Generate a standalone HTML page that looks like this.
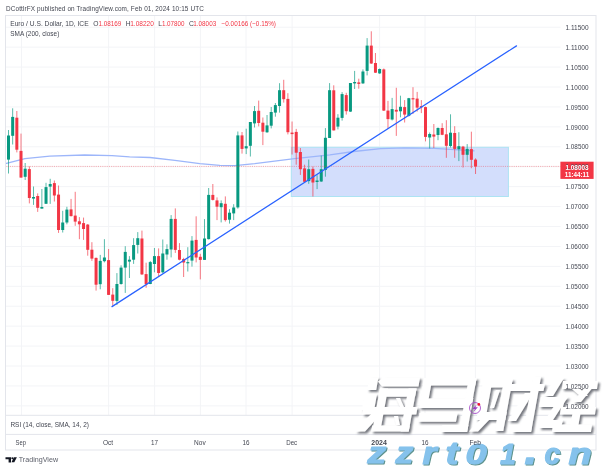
<!DOCTYPE html>
<html><head><meta charset="utf-8"><style>
html,body{margin:0;padding:0;background:#fff;}
body{width:602px;height:470px;position:relative;overflow:hidden;}
</style></head><body>
<svg width="602" height="470" viewBox="0 0 602 470" style="position:absolute;left:0;top:0;will-change:transform">
<line x1="5.5" y1="27.21" x2="560.5" y2="27.21" stroke="#f3f4f7" stroke-width="1"/>
<line x1="5.5" y1="47.14" x2="560.5" y2="47.14" stroke="#f3f4f7" stroke-width="1"/>
<line x1="5.5" y1="67.07" x2="560.5" y2="67.07" stroke="#f3f4f7" stroke-width="1"/>
<line x1="5.5" y1="87.00" x2="560.5" y2="87.00" stroke="#f3f4f7" stroke-width="1"/>
<line x1="5.5" y1="106.93" x2="560.5" y2="106.93" stroke="#f3f4f7" stroke-width="1"/>
<line x1="5.5" y1="126.86" x2="560.5" y2="126.86" stroke="#f3f4f7" stroke-width="1"/>
<line x1="5.5" y1="146.79" x2="560.5" y2="146.79" stroke="#f3f4f7" stroke-width="1"/>
<line x1="5.5" y1="166.72" x2="560.5" y2="166.72" stroke="#f3f4f7" stroke-width="1"/>
<line x1="5.5" y1="186.65" x2="560.5" y2="186.65" stroke="#f3f4f7" stroke-width="1"/>
<line x1="5.5" y1="206.58" x2="560.5" y2="206.58" stroke="#f3f4f7" stroke-width="1"/>
<line x1="5.5" y1="226.51" x2="560.5" y2="226.51" stroke="#f3f4f7" stroke-width="1"/>
<line x1="5.5" y1="246.44" x2="560.5" y2="246.44" stroke="#f3f4f7" stroke-width="1"/>
<line x1="5.5" y1="266.37" x2="560.5" y2="266.37" stroke="#f3f4f7" stroke-width="1"/>
<line x1="5.5" y1="286.30" x2="560.5" y2="286.30" stroke="#f3f4f7" stroke-width="1"/>
<line x1="5.5" y1="306.23" x2="560.5" y2="306.23" stroke="#f3f4f7" stroke-width="1"/>
<line x1="5.5" y1="326.16" x2="560.5" y2="326.16" stroke="#f3f4f7" stroke-width="1"/>
<line x1="5.5" y1="346.09" x2="560.5" y2="346.09" stroke="#f3f4f7" stroke-width="1"/>
<line x1="5.5" y1="366.02" x2="560.5" y2="366.02" stroke="#f3f4f7" stroke-width="1"/>
<line x1="5.5" y1="385.95" x2="560.5" y2="385.95" stroke="#f3f4f7" stroke-width="1"/>
<line x1="5.5" y1="405.88" x2="560.5" y2="405.88" stroke="#f3f4f7" stroke-width="1"/>
<line x1="21.5" y1="15.5" x2="21.5" y2="415" stroke="#f3f4f7" stroke-width="1"/>
<line x1="108.6" y1="15.5" x2="108.6" y2="415" stroke="#f3f4f7" stroke-width="1"/>
<line x1="154.6" y1="15.5" x2="154.6" y2="415" stroke="#f3f4f7" stroke-width="1"/>
<line x1="200.4" y1="15.5" x2="200.4" y2="415" stroke="#f3f4f7" stroke-width="1"/>
<line x1="246.0" y1="15.5" x2="246.0" y2="415" stroke="#f3f4f7" stroke-width="1"/>
<line x1="292.1" y1="15.5" x2="292.1" y2="415" stroke="#f3f4f7" stroke-width="1"/>
<line x1="379.6" y1="15.5" x2="379.6" y2="415" stroke="#f3f4f7" stroke-width="1"/>
<line x1="425.0" y1="15.5" x2="425.0" y2="415" stroke="#f3f4f7" stroke-width="1"/>
<line x1="475.4" y1="15.5" x2="475.4" y2="415" stroke="#f3f4f7" stroke-width="1"/>
<rect x="291.3" y="147.3" width="217.1" height="49.2" fill="#d3defc" stroke="#ade3f3" stroke-width="1"/>
<path d="M5.5,163.7 L24.9,158.7 L49.8,156.2 L84.7,155.0 L112.0,155.6 L129.6,156.8 L150.0,157.5 L174.9,160.4 L199.8,163.6 L219.8,165.3 L234.7,165.7 L254.7,163.7 L274.6,161.2 L294.5,158.7 L329.9,154.8 L353.8,151.5 L380.7,148.6 L404.7,147.9 L434.6,148.4 L474.5,150.8" fill="none" stroke="#9db6fa" stroke-width="1.3" stroke-linejoin="round"/>
<line x1="8.50" y1="130" x2="8.50" y2="173.5" stroke="#089981" stroke-width="0.9" stroke-opacity="0.75"/>
<rect x="7.00" y="135.5" width="3" height="24.10" fill="#089981"/>
<line x1="12.67" y1="108.3" x2="12.67" y2="144.5" stroke="#089981" stroke-width="0.9" stroke-opacity="0.75"/>
<rect x="11.17" y="116.9" width="3" height="18.90" fill="#089981"/>
<line x1="16.84" y1="111" x2="16.84" y2="152.4" stroke="#f23645" stroke-width="0.9" stroke-opacity="0.75"/>
<rect x="15.34" y="117.7" width="3" height="32.00" fill="#f23645"/>
<line x1="21.01" y1="133.6" x2="21.01" y2="177.6" stroke="#f23645" stroke-width="0.9" stroke-opacity="0.75"/>
<rect x="19.51" y="150.9" width="3" height="26.70" fill="#f23645"/>
<line x1="25.18" y1="163" x2="25.18" y2="180" stroke="#089981" stroke-width="0.9" stroke-opacity="0.75"/>
<rect x="23.68" y="168.7" width="3" height="8.10" fill="#089981"/>
<line x1="29.35" y1="166.4" x2="29.35" y2="203.4" stroke="#f23645" stroke-width="0.9" stroke-opacity="0.75"/>
<rect x="27.85" y="169.1" width="3" height="28.90" fill="#f23645"/>
<line x1="33.52" y1="186.5" x2="33.52" y2="204.9" stroke="#089981" stroke-width="0.9" stroke-opacity="0.75"/>
<rect x="32.02" y="197" width="3" height="1.60" fill="#089981"/>
<line x1="37.69" y1="193.4" x2="37.69" y2="211.9" stroke="#f23645" stroke-width="0.9" stroke-opacity="0.75"/>
<rect x="36.19" y="196.0" width="3" height="11.80" fill="#f23645"/>
<line x1="41.86" y1="189" x2="41.86" y2="208.6" stroke="#089981" stroke-width="0.9" stroke-opacity="0.75"/>
<rect x="40.36" y="207" width="3" height="1.60" fill="#089981"/>
<line x1="46.03" y1="182.8" x2="46.03" y2="203.8" stroke="#089981" stroke-width="0.9" stroke-opacity="0.75"/>
<rect x="44.53" y="187.1" width="3" height="16.70" fill="#089981"/>
<line x1="50.20" y1="178.8" x2="50.20" y2="203.9" stroke="#089981" stroke-width="0.9" stroke-opacity="0.75"/>
<rect x="48.70" y="184" width="3" height="2.60" fill="#089981"/>
<line x1="54.37" y1="180.5" x2="54.37" y2="201.5" stroke="#f23645" stroke-width="0.9" stroke-opacity="0.75"/>
<rect x="52.87" y="183.1" width="3" height="12.40" fill="#f23645"/>
<line x1="58.54" y1="185.5" x2="58.54" y2="232.9" stroke="#f23645" stroke-width="0.9" stroke-opacity="0.75"/>
<rect x="57.04" y="194.6" width="3" height="35.40" fill="#f23645"/>
<line x1="62.71" y1="210.8" x2="62.71" y2="232.5" stroke="#089981" stroke-width="0.9" stroke-opacity="0.75"/>
<rect x="61.21" y="222.5" width="3" height="7.50" fill="#089981"/>
<line x1="66.88" y1="206.8" x2="66.88" y2="224.3" stroke="#089981" stroke-width="0.9" stroke-opacity="0.75"/>
<rect x="65.38" y="209.6" width="3" height="12.90" fill="#089981"/>
<line x1="71.05" y1="198.9" x2="71.05" y2="216.5" stroke="#f23645" stroke-width="0.9" stroke-opacity="0.75"/>
<rect x="69.55" y="209.4" width="3" height="6.70" fill="#f23645"/>
<line x1="75.22" y1="191.8" x2="75.22" y2="225.8" stroke="#f23645" stroke-width="0.9" stroke-opacity="0.75"/>
<rect x="73.72" y="215.6" width="3" height="6.00" fill="#f23645"/>
<line x1="79.39" y1="217.1" x2="79.39" y2="239.2" stroke="#f23645" stroke-width="0.9" stroke-opacity="0.75"/>
<rect x="77.89" y="221.3" width="3" height="3.00" fill="#f23645"/>
<line x1="83.56" y1="217.6" x2="83.56" y2="239.9" stroke="#f23645" stroke-width="0.9" stroke-opacity="0.75"/>
<rect x="82.06" y="223.1" width="3" height="5.90" fill="#f23645"/>
<line x1="87.73" y1="224" x2="87.73" y2="255.7" stroke="#f23645" stroke-width="0.9" stroke-opacity="0.75"/>
<rect x="86.23" y="224.6" width="3" height="25.20" fill="#f23645"/>
<line x1="91.90" y1="242.2" x2="91.90" y2="260.9" stroke="#f23645" stroke-width="0.9" stroke-opacity="0.75"/>
<rect x="90.40" y="249.7" width="3" height="8.90" fill="#f23645"/>
<line x1="96.07" y1="257.5" x2="96.07" y2="290.6" stroke="#f23645" stroke-width="0.9" stroke-opacity="0.75"/>
<rect x="94.57" y="257.9" width="3" height="26.80" fill="#f23645"/>
<line x1="100.24" y1="254.9" x2="100.24" y2="289.3" stroke="#089981" stroke-width="0.9" stroke-opacity="0.75"/>
<rect x="98.74" y="260.9" width="3" height="23.30" fill="#089981"/>
<line x1="104.41" y1="239.2" x2="104.41" y2="262.4" stroke="#089981" stroke-width="0.9" stroke-opacity="0.75"/>
<rect x="102.91" y="257.5" width="3" height="3.70" fill="#089981"/>
<line x1="108.58" y1="249" x2="108.58" y2="295" stroke="#f23645" stroke-width="0.9" stroke-opacity="0.75"/>
<rect x="107.08" y="260.1" width="3" height="34.80" fill="#f23645"/>
<line x1="112.75" y1="288.2" x2="112.75" y2="305.9" stroke="#f23645" stroke-width="0.9" stroke-opacity="0.75"/>
<rect x="111.25" y="294.6" width="3" height="6.20" fill="#f23645"/>
<line x1="116.92" y1="273.1" x2="116.92" y2="305" stroke="#089981" stroke-width="0.9" stroke-opacity="0.75"/>
<rect x="115.42" y="284" width="3" height="16.90" fill="#089981"/>
<line x1="121.09" y1="265.3" x2="121.09" y2="284.7" stroke="#089981" stroke-width="0.9" stroke-opacity="0.75"/>
<rect x="119.59" y="267.6" width="3" height="16.40" fill="#089981"/>
<line x1="125.26" y1="246.2" x2="125.26" y2="292.9" stroke="#089981" stroke-width="0.9" stroke-opacity="0.75"/>
<rect x="123.76" y="251.9" width="3" height="15.70" fill="#089981"/>
<line x1="129.43" y1="256.1" x2="129.43" y2="278" stroke="#089981" stroke-width="0.9" stroke-opacity="0.75"/>
<rect x="127.93" y="259.7" width="3" height="1.90" fill="#089981"/>
<line x1="133.60" y1="238.2" x2="133.60" y2="263.9" stroke="#089981" stroke-width="0.9" stroke-opacity="0.75"/>
<rect x="132.10" y="245.1" width="3" height="14.60" fill="#089981"/>
<line x1="137.77" y1="232.1" x2="137.77" y2="253.5" stroke="#089981" stroke-width="0.9" stroke-opacity="0.75"/>
<rect x="136.27" y="238.2" width="3" height="6.70" fill="#089981"/>
<line x1="141.94" y1="230.6" x2="141.94" y2="275" stroke="#f23645" stroke-width="0.9" stroke-opacity="0.75"/>
<rect x="140.44" y="238.5" width="3" height="35.90" fill="#f23645"/>
<line x1="146.11" y1="262.7" x2="146.11" y2="287.8" stroke="#f23645" stroke-width="0.9" stroke-opacity="0.75"/>
<rect x="144.61" y="274.1" width="3" height="10.10" fill="#f23645"/>
<line x1="150.28" y1="261" x2="150.28" y2="284.2" stroke="#089981" stroke-width="0.9" stroke-opacity="0.75"/>
<rect x="148.78" y="262.1" width="3" height="21.90" fill="#089981"/>
<line x1="154.45" y1="248" x2="154.45" y2="272.3" stroke="#089981" stroke-width="0.9" stroke-opacity="0.75"/>
<rect x="152.95" y="256.1" width="3" height="7.90" fill="#089981"/>
<line x1="158.62" y1="248.4" x2="158.62" y2="276" stroke="#f23645" stroke-width="0.9" stroke-opacity="0.75"/>
<rect x="157.12" y="256.1" width="3" height="16.90" fill="#f23645"/>
<line x1="162.79" y1="239.5" x2="162.79" y2="273" stroke="#089981" stroke-width="0.9" stroke-opacity="0.75"/>
<rect x="161.29" y="253.5" width="3" height="18.80" fill="#089981"/>
<line x1="166.96" y1="244.3" x2="166.96" y2="259.7" stroke="#089981" stroke-width="0.9" stroke-opacity="0.75"/>
<rect x="165.46" y="249.1" width="3" height="5.40" fill="#089981"/>
<line x1="171.13" y1="215.1" x2="171.13" y2="257.4" stroke="#089981" stroke-width="0.9" stroke-opacity="0.75"/>
<rect x="169.63" y="218.9" width="3" height="30.60" fill="#089981"/>
<line x1="175.30" y1="208.4" x2="175.30" y2="252.9" stroke="#f23645" stroke-width="0.9" stroke-opacity="0.75"/>
<rect x="173.80" y="218.9" width="3" height="31.00" fill="#f23645"/>
<line x1="179.47" y1="243.1" x2="179.47" y2="260.3" stroke="#f23645" stroke-width="0.9" stroke-opacity="0.75"/>
<rect x="177.97" y="250" width="3" height="9.70" fill="#f23645"/>
<line x1="183.64" y1="257.8" x2="183.64" y2="277" stroke="#f23645" stroke-width="0.9" stroke-opacity="0.75"/>
<rect x="182.14" y="259" width="3" height="3.50" fill="#f23645"/>
<line x1="187.81" y1="247.2" x2="187.81" y2="271.5" stroke="#089981" stroke-width="0.9" stroke-opacity="0.75"/>
<rect x="186.31" y="262.1" width="3" height="1.20" fill="#089981"/>
<line x1="191.98" y1="236.1" x2="191.98" y2="266.6" stroke="#089981" stroke-width="0.9" stroke-opacity="0.75"/>
<rect x="190.48" y="240.6" width="3" height="20.00" fill="#089981"/>
<line x1="196.15" y1="216.3" x2="196.15" y2="262.4" stroke="#f23645" stroke-width="0.9" stroke-opacity="0.75"/>
<rect x="194.65" y="239.9" width="3" height="17.60" fill="#f23645"/>
<line x1="200.32" y1="253.8" x2="200.32" y2="279.4" stroke="#f23645" stroke-width="0.9" stroke-opacity="0.75"/>
<rect x="198.82" y="256.8" width="3" height="3.10" fill="#f23645"/>
<line x1="204.49" y1="219.1" x2="204.49" y2="259.9" stroke="#089981" stroke-width="0.9" stroke-opacity="0.75"/>
<rect x="202.99" y="238.5" width="3" height="21.40" fill="#089981"/>
<line x1="208.66" y1="188" x2="208.66" y2="239.5" stroke="#089981" stroke-width="0.9" stroke-opacity="0.75"/>
<rect x="207.16" y="194.9" width="3" height="44.20" fill="#089981"/>
<line x1="212.83" y1="184" x2="212.83" y2="200.5" stroke="#f23645" stroke-width="0.9" stroke-opacity="0.75"/>
<rect x="211.33" y="194.9" width="3" height="5.00" fill="#f23645"/>
<line x1="217.00" y1="197.4" x2="217.00" y2="220.1" stroke="#f23645" stroke-width="0.9" stroke-opacity="0.75"/>
<rect x="215.50" y="200.4" width="3" height="6.30" fill="#f23645"/>
<line x1="221.17" y1="200.4" x2="221.17" y2="222.4" stroke="#089981" stroke-width="0.9" stroke-opacity="0.75"/>
<rect x="219.67" y="203.2" width="3" height="4.00" fill="#089981"/>
<line x1="225.34" y1="196.4" x2="225.34" y2="221.6" stroke="#f23645" stroke-width="0.9" stroke-opacity="0.75"/>
<rect x="223.84" y="203.8" width="3" height="16.30" fill="#f23645"/>
<line x1="229.51" y1="209.2" x2="229.51" y2="223.6" stroke="#089981" stroke-width="0.9" stroke-opacity="0.75"/>
<rect x="228.01" y="212.7" width="3" height="7.00" fill="#089981"/>
<line x1="233.68" y1="204.2" x2="233.68" y2="220.1" stroke="#089981" stroke-width="0.9" stroke-opacity="0.75"/>
<rect x="232.18" y="207.5" width="3" height="5.90" fill="#089981"/>
<line x1="237.85" y1="131.5" x2="237.85" y2="208.7" stroke="#089981" stroke-width="0.9" stroke-opacity="0.75"/>
<rect x="236.35" y="135.4" width="3" height="72.00" fill="#089981"/>
<line x1="242.02" y1="132" x2="242.02" y2="153.6" stroke="#f23645" stroke-width="0.9" stroke-opacity="0.75"/>
<rect x="240.52" y="135.4" width="3" height="13.50" fill="#f23645"/>
<line x1="246.19" y1="128.7" x2="246.19" y2="154.1" stroke="#089981" stroke-width="0.9" stroke-opacity="0.75"/>
<rect x="244.69" y="146.2" width="3" height="2.20" fill="#089981"/>
<line x1="250.36" y1="122" x2="250.36" y2="156.5" stroke="#089981" stroke-width="0.9" stroke-opacity="0.75"/>
<rect x="248.86" y="122" width="3" height="23.80" fill="#089981"/>
<line x1="254.53" y1="106" x2="254.53" y2="127.5" stroke="#089981" stroke-width="0.9" stroke-opacity="0.75"/>
<rect x="253.03" y="111.1" width="3" height="12.30" fill="#089981"/>
<line x1="258.70" y1="100.6" x2="258.70" y2="126.4" stroke="#f23645" stroke-width="0.9" stroke-opacity="0.75"/>
<rect x="257.20" y="110.8" width="3" height="12.20" fill="#f23645"/>
<line x1="262.87" y1="117.5" x2="262.87" y2="145.1" stroke="#f23645" stroke-width="0.9" stroke-opacity="0.75"/>
<rect x="261.37" y="122.7" width="3" height="9.00" fill="#f23645"/>
<line x1="267.04" y1="115" x2="267.04" y2="132.8" stroke="#089981" stroke-width="0.9" stroke-opacity="0.75"/>
<rect x="265.54" y="125.4" width="3" height="6.90" fill="#089981"/>
<line x1="271.21" y1="107" x2="271.21" y2="128.4" stroke="#089981" stroke-width="0.9" stroke-opacity="0.75"/>
<rect x="269.71" y="112" width="3" height="13.70" fill="#089981"/>
<line x1="275.38" y1="103" x2="275.38" y2="116.7" stroke="#089981" stroke-width="0.9" stroke-opacity="0.75"/>
<rect x="273.88" y="105.1" width="3" height="7.50" fill="#089981"/>
<line x1="279.55" y1="83.2" x2="279.55" y2="112.6" stroke="#089981" stroke-width="0.9" stroke-opacity="0.75"/>
<rect x="278.05" y="90.2" width="3" height="15.80" fill="#089981"/>
<line x1="283.72" y1="79.8" x2="283.72" y2="102.6" stroke="#f23645" stroke-width="0.9" stroke-opacity="0.75"/>
<rect x="282.22" y="90.2" width="3" height="9.00" fill="#f23645"/>
<line x1="287.89" y1="93.2" x2="287.89" y2="134.4" stroke="#f23645" stroke-width="0.9" stroke-opacity="0.75"/>
<rect x="286.39" y="98.9" width="3" height="33.30" fill="#f23645"/>
<line x1="292.06" y1="121.5" x2="292.06" y2="154.5" stroke="#f23645" stroke-width="0.9" stroke-opacity="0.75"/>
<rect x="290.56" y="132.6" width="3" height="1.50" fill="#f23645"/>
<line x1="296.23" y1="128.9" x2="296.23" y2="164.7" stroke="#f23645" stroke-width="0.9" stroke-opacity="0.75"/>
<rect x="294.73" y="131.9" width="3" height="20.80" fill="#f23645"/>
<line x1="300.40" y1="148" x2="300.40" y2="174.9" stroke="#f23645" stroke-width="0.9" stroke-opacity="0.75"/>
<rect x="298.90" y="152" width="3" height="17.20" fill="#f23645"/>
<line x1="304.57" y1="164.7" x2="304.57" y2="182.3" stroke="#f23645" stroke-width="0.9" stroke-opacity="0.75"/>
<rect x="303.07" y="168.4" width="3" height="13.40" fill="#f23645"/>
<line x1="308.74" y1="159.5" x2="308.74" y2="183.8" stroke="#089981" stroke-width="0.9" stroke-opacity="0.75"/>
<rect x="307.24" y="169.2" width="3" height="11.90" fill="#089981"/>
<line x1="312.91" y1="166.5" x2="312.91" y2="196.5" stroke="#f23645" stroke-width="0.9" stroke-opacity="0.75"/>
<rect x="311.41" y="168.9" width="3" height="13.60" fill="#f23645"/>
<line x1="317.08" y1="175.2" x2="317.08" y2="189.1" stroke="#089981" stroke-width="0.9" stroke-opacity="0.75"/>
<rect x="315.58" y="180.5" width="3" height="1.50" fill="#089981"/>
<line x1="321.25" y1="155.5" x2="321.25" y2="181.9" stroke="#089981" stroke-width="0.9" stroke-opacity="0.75"/>
<rect x="319.75" y="169.2" width="3" height="12.30" fill="#089981"/>
<line x1="325.42" y1="128.1" x2="325.42" y2="176.7" stroke="#089981" stroke-width="0.9" stroke-opacity="0.75"/>
<rect x="323.92" y="137.8" width="3" height="32.10" fill="#089981"/>
<line x1="329.59" y1="83.1" x2="329.59" y2="138" stroke="#089981" stroke-width="0.9" stroke-opacity="0.75"/>
<rect x="328.09" y="90.2" width="3" height="47.80" fill="#089981"/>
<line x1="333.76" y1="85.3" x2="333.76" y2="130.5" stroke="#f23645" stroke-width="0.9" stroke-opacity="0.75"/>
<rect x="332.26" y="90.3" width="3" height="40.10" fill="#f23645"/>
<line x1="337.93" y1="114.2" x2="337.93" y2="129.4" stroke="#089981" stroke-width="0.9" stroke-opacity="0.75"/>
<rect x="336.43" y="117.7" width="3" height="8.90" fill="#089981"/>
<line x1="342.10" y1="92.1" x2="342.10" y2="120.6" stroke="#089981" stroke-width="0.9" stroke-opacity="0.75"/>
<rect x="340.60" y="94.1" width="3" height="23.80" fill="#089981"/>
<line x1="346.27" y1="92.8" x2="346.27" y2="114.6" stroke="#f23645" stroke-width="0.9" stroke-opacity="0.75"/>
<rect x="344.77" y="95.1" width="3" height="16.10" fill="#f23645"/>
<line x1="350.44" y1="83" x2="350.44" y2="112" stroke="#089981" stroke-width="0.9" stroke-opacity="0.75"/>
<rect x="348.94" y="83" width="3" height="28.60" fill="#089981"/>
<line x1="354.61" y1="70.9" x2="354.61" y2="89" stroke="#089981" stroke-width="0.9" stroke-opacity="0.75"/>
<rect x="353.11" y="82" width="3" height="1.40" fill="#089981"/>
<line x1="358.78" y1="78.7" x2="358.78" y2="88.7" stroke="#f23645" stroke-width="0.9" stroke-opacity="0.75"/>
<rect x="357.28" y="82.4" width="3" height="1.50" fill="#f23645"/>
<line x1="362.95" y1="69.4" x2="362.95" y2="83.9" stroke="#089981" stroke-width="0.9" stroke-opacity="0.75"/>
<rect x="361.45" y="71.5" width="3" height="11.90" fill="#089981"/>
<line x1="367.12" y1="38.1" x2="367.12" y2="75.4" stroke="#089981" stroke-width="0.9" stroke-opacity="0.75"/>
<rect x="365.62" y="45.6" width="3" height="25.30" fill="#089981"/>
<line x1="371.29" y1="31.3" x2="371.29" y2="64" stroke="#f23645" stroke-width="0.9" stroke-opacity="0.75"/>
<rect x="369.79" y="45.6" width="3" height="17.90" fill="#f23645"/>
<line x1="375.46" y1="53" x2="375.46" y2="73" stroke="#f23645" stroke-width="0.9" stroke-opacity="0.75"/>
<rect x="373.96" y="63" width="3" height="9.70" fill="#f23645"/>
<line x1="379.63" y1="68.5" x2="379.63" y2="73.9" stroke="#089981" stroke-width="0.9" stroke-opacity="0.75"/>
<rect x="378.13" y="69" width="3" height="4.40" fill="#089981"/>
<line x1="383.80" y1="68.5" x2="383.80" y2="111" stroke="#f23645" stroke-width="0.9" stroke-opacity="0.75"/>
<rect x="382.30" y="69.4" width="3" height="41.20" fill="#f23645"/>
<line x1="387.97" y1="100.9" x2="387.97" y2="128.9" stroke="#f23645" stroke-width="0.9" stroke-opacity="0.75"/>
<rect x="386.47" y="110.6" width="3" height="8.50" fill="#f23645"/>
<line x1="392.14" y1="97.9" x2="392.14" y2="120.5" stroke="#089981" stroke-width="0.9" stroke-opacity="0.75"/>
<rect x="390.64" y="109.1" width="3" height="10.40" fill="#089981"/>
<line x1="396.31" y1="87.8" x2="396.31" y2="135.9" stroke="#f23645" stroke-width="0.9" stroke-opacity="0.75"/>
<rect x="394.81" y="109.8" width="3" height="1.80" fill="#f23645"/>
<line x1="400.48" y1="95.7" x2="400.48" y2="117.3" stroke="#089981" stroke-width="0.9" stroke-opacity="0.75"/>
<rect x="398.98" y="106.8" width="3" height="4.50" fill="#089981"/>
<line x1="404.65" y1="100.1" x2="404.65" y2="122.5" stroke="#f23645" stroke-width="0.9" stroke-opacity="0.75"/>
<rect x="403.15" y="107.1" width="3" height="7.50" fill="#f23645"/>
<line x1="408.82" y1="97.9" x2="408.82" y2="116.5" stroke="#089981" stroke-width="0.9" stroke-opacity="0.75"/>
<rect x="407.32" y="98.2" width="3" height="17.60" fill="#089981"/>
<line x1="412.99" y1="87.2" x2="412.99" y2="114" stroke="#f23645" stroke-width="0.9" stroke-opacity="0.75"/>
<rect x="411.49" y="98.2" width="3" height="1.20" fill="#f23645"/>
<line x1="417.16" y1="91.9" x2="417.16" y2="111.6" stroke="#f23645" stroke-width="0.9" stroke-opacity="0.75"/>
<rect x="415.66" y="98.6" width="3" height="9.00" fill="#f23645"/>
<line x1="421.33" y1="100.1" x2="421.33" y2="113.1" stroke="#f23645" stroke-width="0.9" stroke-opacity="0.75"/>
<rect x="419.83" y="106.1" width="3" height="1.20" fill="#f23645"/>
<line x1="425.50" y1="106.5" x2="425.50" y2="141.4" stroke="#f23645" stroke-width="0.9" stroke-opacity="0.75"/>
<rect x="424.00" y="107.1" width="3" height="29.80" fill="#f23645"/>
<line x1="429.67" y1="132.5" x2="429.67" y2="148.5" stroke="#089981" stroke-width="0.9" stroke-opacity="0.75"/>
<rect x="428.17" y="134" width="3" height="3.50" fill="#089981"/>
<line x1="433.84" y1="124" x2="433.84" y2="148" stroke="#f23645" stroke-width="0.9" stroke-opacity="0.75"/>
<rect x="432.34" y="134.5" width="3" height="2.10" fill="#f23645"/>
<line x1="438.01" y1="127.4" x2="438.01" y2="140.2" stroke="#089981" stroke-width="0.9" stroke-opacity="0.75"/>
<rect x="436.51" y="128" width="3" height="7.00" fill="#089981"/>
<line x1="442.18" y1="123.2" x2="442.18" y2="135.2" stroke="#f23645" stroke-width="0.9" stroke-opacity="0.75"/>
<rect x="440.68" y="128" width="3" height="6.80" fill="#f23645"/>
<line x1="446.35" y1="120.2" x2="446.35" y2="157.8" stroke="#f23645" stroke-width="0.9" stroke-opacity="0.75"/>
<rect x="444.85" y="134.3" width="3" height="11.50" fill="#f23645"/>
<line x1="450.52" y1="114.3" x2="450.52" y2="147.5" stroke="#089981" stroke-width="0.9" stroke-opacity="0.75"/>
<rect x="449.02" y="132.7" width="3" height="13.30" fill="#089981"/>
<line x1="454.69" y1="126.2" x2="454.69" y2="157.8" stroke="#f23645" stroke-width="0.9" stroke-opacity="0.75"/>
<rect x="453.19" y="133" width="3" height="15.90" fill="#f23645"/>
<line x1="458.86" y1="132.2" x2="458.86" y2="161.1" stroke="#089981" stroke-width="0.9" stroke-opacity="0.75"/>
<rect x="457.36" y="146.2" width="3" height="3.00" fill="#089981"/>
<line x1="463.03" y1="145.9" x2="463.03" y2="167.5" stroke="#f23645" stroke-width="0.9" stroke-opacity="0.75"/>
<rect x="461.53" y="146.6" width="3" height="8.20" fill="#f23645"/>
<line x1="467.20" y1="144.1" x2="467.20" y2="161.5" stroke="#089981" stroke-width="0.9" stroke-opacity="0.75"/>
<rect x="465.70" y="148.9" width="3" height="5.90" fill="#089981"/>
<line x1="471.37" y1="131.7" x2="471.37" y2="168.2" stroke="#f23645" stroke-width="0.9" stroke-opacity="0.75"/>
<rect x="469.87" y="149.1" width="3" height="10.70" fill="#f23645"/>
<line x1="475.54" y1="158.3" x2="475.54" y2="174" stroke="#f23645" stroke-width="0.9" stroke-opacity="0.75"/>
<rect x="474.04" y="159.6" width="3" height="6.90" fill="#f23645"/>
<line x1="5.5" y1="166.4" x2="560.5" y2="166.4" stroke="#f23645" stroke-opacity="0.5" stroke-width="0.8" stroke-dasharray="1.1 1.1"/>
<line x1="112" y1="306.6" x2="516.5" y2="45.9" stroke="#2962ff" stroke-width="1.25" stroke-linecap="round"/>
<rect x="5.5" y="15.5" width="590.5" height="434.5" fill="none" stroke="#e3e5eb" stroke-width="1"/>
<line x1="5.5" y1="415.3" x2="596" y2="415.3" stroke="#e3e5eb" stroke-width="1"/>
<line x1="5.5" y1="434.4" x2="596" y2="434.4" stroke="#e3e5eb" stroke-width="1"/>
<rect x="560.4" y="161.7" width="33.2" height="17.2" fill="#f23645"/>
<text x="6.0" y="10.7" font-family="Liberation Sans, sans-serif" font-size="6.4" fill="#434651" text-anchor="start" font-weight="normal" textLength="197.8" lengthAdjust="spacing">DCottlrFX published on TradingView.com, Feb 01, 2024 10:15 UTC</text>
<text x="10.2" y="25.8" font-family="Liberation Sans, sans-serif" font-size="6.7" fill="#434651" text-anchor="start" font-weight="normal" textLength="78.4" lengthAdjust="spacingAndGlyphs">Euro / U.S. Dollar, 1D, ICE</text>
<text x="93.2" y="25.8" font-family="Liberation Sans, sans-serif" font-size="6.7" fill="#434651" text-anchor="start" font-weight="normal">O</text>
<text x="98.5" y="25.8" font-family="Liberation Sans, sans-serif" font-size="6.7" fill="#f23645" text-anchor="start" font-weight="normal" textLength="22.9" lengthAdjust="spacingAndGlyphs">1.08169</text>
<text x="125.8" y="25.8" font-family="Liberation Sans, sans-serif" font-size="6.7" fill="#434651" text-anchor="start" font-weight="normal">H</text>
<text x="130.2" y="25.8" font-family="Liberation Sans, sans-serif" font-size="6.7" fill="#f23645" text-anchor="start" font-weight="normal" textLength="23.7" lengthAdjust="spacingAndGlyphs">1.08220</text>
<text x="158.2" y="25.8" font-family="Liberation Sans, sans-serif" font-size="6.7" fill="#434651" text-anchor="start" font-weight="normal">L</text>
<text x="161.9" y="25.8" font-family="Liberation Sans, sans-serif" font-size="6.7" fill="#f23645" text-anchor="start" font-weight="normal" textLength="22.6" lengthAdjust="spacingAndGlyphs">1.07800</text>
<text x="188.9" y="25.8" font-family="Liberation Sans, sans-serif" font-size="6.7" fill="#434651" text-anchor="start" font-weight="normal">C</text>
<text x="193.3" y="25.8" font-family="Liberation Sans, sans-serif" font-size="6.7" fill="#f23645" text-anchor="start" font-weight="normal" textLength="22.9" lengthAdjust="spacingAndGlyphs">1.08003</text>
<text x="221.6" y="25.8" font-family="Liberation Sans, sans-serif" font-size="6.7" fill="#f23645" text-anchor="start" font-weight="normal" textLength="54.4" lengthAdjust="spacingAndGlyphs">−0.00166 (−0.15%)</text>
<text x="10.3" y="35.5" font-family="Liberation Sans, sans-serif" font-size="6.7" fill="#434651" text-anchor="start" font-weight="normal" textLength="49.0" lengthAdjust="spacingAndGlyphs">SMA (200, close)</text>
<defs><filter id="wsh" x="-10%" y="-10%" width="130%" height="130%"><feGaussianBlur in="SourceAlpha" stdDeviation="1.0"/><feOffset dx="1.8" dy="2.1" result="o"/><feFlood flood-color="#575a63" flood-opacity="0.82"/><feComposite in2="o" operator="in"/><feMerge><feMergeNode/><feMergeNode in="SourceGraphic"/></feMerge></filter></defs>
<g filter="url(#wsh)" fill="#ffffff">
<polygon points="369.4,377.5 378.4,377.5 376.2,390.0 367.2,390.0"/>
<polygon points="364.5,394.0 377.0,394.0 374.1,410.0 361.6,410.0"/>
<polygon points="355.0,431.5 365.0,431.5 382.0,413.0 372.0,413.0"/>
<polygon points="378.0,381.5 384.0,377.5 420.0,377.5 418.5,386.4 382.0,386.4"/>
<polygon points="380.0,388.5 388.0,388.5 380.3,431.0 372.3,431.0"/>
<polygon points="380.0,388.5 416.5,388.5 415.0,396.8 378.5,396.8"/>
<polygon points="408.5,388.5 416.5,388.5 408.7,431.5 400.7,431.5"/>
<polygon points="363.6,407.0 417.6,407.0 416.3,414.5 362.3,414.5"/>
<polygon points="372.3,425.5 409.8,425.5 408.7,431.5 371.2,431.5"/>
<polygon points="396.0,398.0 400.0,398.0 404.0,407.0 400.0,407.0"/>
<polygon points="394.0,416.0 398.0,416.0 400.0,425.0 396.0,425.0"/>
<polygon points="424.4,378.0 476.6,378.0 475.2,385.6 423.0,385.6"/>
<polygon points="424.4,378.0 432.4,378.0 427.0,408.0 419.0,408.0"/>
<polygon points="468.9,378.0 476.6,378.0 472.9,398.5 465.2,398.5"/>
<polygon points="424.8,398.5 472.9,398.5 471.2,408.0 423.1,408.0"/>
<polygon points="465.3,398.0 473.3,398.0 467.1,432.0 459.1,432.0"/>
<polygon points="442.4,425.0 468.4,425.0 467.1,432.0 441.1,432.0"/>
<polygon points="419.6,413.0 457.6,413.0 456.0,421.7 418.0,421.7"/>
<polygon points="483.7,379.0 492.7,379.0 485.3,420.0 476.3,420.0"/>
<polygon points="483.7,379.0 512.7,379.0 511.1,387.6 482.1,387.6"/>
<polygon points="504.2,379.0 512.7,379.0 503.3,431.0 494.8,431.0"/>
<polygon points="477.7,412.0 506.7,412.0 505.3,420.0 476.3,420.0"/>
<polygon points="496.0,390.0 500.0,390.0 494.0,408.0 490.0,408.0"/>
<polygon points="480.0,420.0 489.0,420.0 478.0,431.5 469.0,431.5"/>
<polygon points="506.0,384.0 545.0,384.0 543.5,391.0 504.5,391.0"/>
<polygon points="533.1,376.5 541.1,376.5 531.1,432.0 523.1,432.0"/>
<polygon points="514.0,425.0 532.0,425.0 531.0,432.0 512.0,432.0"/>
<polygon points="525.0,393.0 533.0,393.0 516.0,421.0 508.0,421.0"/>
<polygon points="555.0,378.0 564.0,378.0 553.0,396.0 544.0,396.0"/>
<polygon points="541.0,397.0 565.0,397.0 563.0,407.0 539.0,407.0"/>
<polygon points="560.0,397.0 568.0,397.0 553.0,420.0 545.0,420.0"/>
<polygon points="541.0,420.0 563.0,420.0 561.0,428.0 539.0,428.0"/>
<polygon points="563.0,381.0 598.0,381.0 597.0,389.0 562.0,389.0"/>
<polygon points="590.0,381.0 598.0,381.0 581.0,402.0 573.0,402.0"/>
<polygon points="572.0,389.0 580.0,389.0 588.0,396.0 580.0,396.0"/>
<polygon points="561.0,407.0 596.0,407.0 595.0,414.5 560.0,414.5"/>
<polygon points="574.0,405.0 582.0,405.0 577.9,428.0 569.9,428.0"/>
<polygon points="553.0,424.5 592.0,424.5 591.0,432.0 552.0,432.0"/>
</g>
<circle cx="475" cy="408" r="5.5" fill="none" stroke="#a448c8" stroke-width="1.0" stroke-opacity="0.85"/>
<path d="M476.8,404.3 L472.3,408.9 L474.9,408.9 L473.3,412 L477.9,407.2 L475.3,407.2 Z" fill="#9b3fc4"/>
<circle cx="478.8" cy="404.4" r="1.4" fill="#f0142f"/>
<text x="588.5" y="29.91000000000039" font-family="Liberation Sans, sans-serif" font-size="7.4" fill="#434651" text-anchor="end" font-weight="normal" textLength="23.0" lengthAdjust="spacingAndGlyphs">1.11500</text>
<text x="588.5" y="49.83999999999997" font-family="Liberation Sans, sans-serif" font-size="7.4" fill="#434651" text-anchor="end" font-weight="normal" textLength="23.0" lengthAdjust="spacingAndGlyphs">1.11000</text>
<text x="588.5" y="69.77000000000042" font-family="Liberation Sans, sans-serif" font-size="7.4" fill="#434651" text-anchor="end" font-weight="normal" textLength="23.0" lengthAdjust="spacingAndGlyphs">1.10500</text>
<text x="588.5" y="89.7" font-family="Liberation Sans, sans-serif" font-size="7.4" fill="#434651" text-anchor="end" font-weight="normal" textLength="23.0" lengthAdjust="spacingAndGlyphs">1.10000</text>
<text x="588.5" y="109.63000000000046" font-family="Liberation Sans, sans-serif" font-size="7.4" fill="#434651" text-anchor="end" font-weight="normal" textLength="23.0" lengthAdjust="spacingAndGlyphs">1.09500</text>
<text x="588.5" y="129.56000000000003" font-family="Liberation Sans, sans-serif" font-size="7.4" fill="#434651" text-anchor="end" font-weight="normal" textLength="23.0" lengthAdjust="spacingAndGlyphs">1.09000</text>
<text x="588.5" y="149.4900000000005" font-family="Liberation Sans, sans-serif" font-size="7.4" fill="#434651" text-anchor="end" font-weight="normal" textLength="23.0" lengthAdjust="spacingAndGlyphs">1.08500</text>
<text x="588.5" y="169.42000000000007" font-family="Liberation Sans, sans-serif" font-size="7.4" fill="#434651" text-anchor="end" font-weight="normal" textLength="23.0" lengthAdjust="spacingAndGlyphs">1.08000</text>
<text x="588.5" y="189.35000000000053" font-family="Liberation Sans, sans-serif" font-size="7.4" fill="#434651" text-anchor="end" font-weight="normal" textLength="23.0" lengthAdjust="spacingAndGlyphs">1.07500</text>
<text x="588.5" y="209.2800000000001" font-family="Liberation Sans, sans-serif" font-size="7.4" fill="#434651" text-anchor="end" font-weight="normal" textLength="23.0" lengthAdjust="spacingAndGlyphs">1.07000</text>
<text x="588.5" y="229.21000000000055" font-family="Liberation Sans, sans-serif" font-size="7.4" fill="#434651" text-anchor="end" font-weight="normal" textLength="23.0" lengthAdjust="spacingAndGlyphs">1.06500</text>
<text x="588.5" y="249.14000000000013" font-family="Liberation Sans, sans-serif" font-size="7.4" fill="#434651" text-anchor="end" font-weight="normal" textLength="23.0" lengthAdjust="spacingAndGlyphs">1.06000</text>
<text x="588.5" y="269.07000000000056" font-family="Liberation Sans, sans-serif" font-size="7.4" fill="#434651" text-anchor="end" font-weight="normal" textLength="23.0" lengthAdjust="spacingAndGlyphs">1.05500</text>
<text x="588.5" y="289.00000000000017" font-family="Liberation Sans, sans-serif" font-size="7.4" fill="#434651" text-anchor="end" font-weight="normal" textLength="23.0" lengthAdjust="spacingAndGlyphs">1.05000</text>
<text x="588.5" y="308.93000000000063" font-family="Liberation Sans, sans-serif" font-size="7.4" fill="#434651" text-anchor="end" font-weight="normal" textLength="23.0" lengthAdjust="spacingAndGlyphs">1.04500</text>
<text x="588.5" y="328.8600000000002" font-family="Liberation Sans, sans-serif" font-size="7.4" fill="#434651" text-anchor="end" font-weight="normal" textLength="23.0" lengthAdjust="spacingAndGlyphs">1.04000</text>
<text x="588.5" y="348.79000000000065" font-family="Liberation Sans, sans-serif" font-size="7.4" fill="#434651" text-anchor="end" font-weight="normal" textLength="23.0" lengthAdjust="spacingAndGlyphs">1.03500</text>
<text x="588.5" y="368.72000000000025" font-family="Liberation Sans, sans-serif" font-size="7.4" fill="#434651" text-anchor="end" font-weight="normal" textLength="23.0" lengthAdjust="spacingAndGlyphs">1.03000</text>
<text x="588.5" y="388.6500000000007" font-family="Liberation Sans, sans-serif" font-size="7.4" fill="#434651" text-anchor="end" font-weight="normal" textLength="23.0" lengthAdjust="spacingAndGlyphs">1.02500</text>
<text x="588.5" y="408.58000000000027" font-family="Liberation Sans, sans-serif" font-size="7.4" fill="#434651" text-anchor="end" font-weight="normal" textLength="23.0" lengthAdjust="spacingAndGlyphs">1.02000</text>
<text x="577" y="169.8" font-family="Liberation Sans, sans-serif" font-size="7.4" fill="#ffffff" text-anchor="middle" font-weight="bold" textLength="23.0" lengthAdjust="spacingAndGlyphs">1.08003</text>
<text x="577" y="177.2" font-family="Liberation Sans, sans-serif" font-size="7.4" fill="#ffffff" text-anchor="middle" font-weight="bold" textLength="24.5" lengthAdjust="spacingAndGlyphs">11:44:11</text>
<text x="10.4" y="427.2" font-family="Liberation Sans, sans-serif" font-size="6.6" fill="#434651" text-anchor="start" font-weight="normal" textLength="78.5" lengthAdjust="spacingAndGlyphs">RSI (14, close, SMA, 14, 2)</text>
<defs><filter id="zsh" x="-20%" y="-20%" width="150%" height="150%"><feGaussianBlur in="SourceAlpha" stdDeviation="0.5"/><feOffset dx="1.2" dy="1.3" result="o"/><feFlood flood-color="#3f7f78" flood-opacity="0.85"/><feComposite in2="o" operator="in"/><feMerge><feMergeNode/><feMergeNode in="SourceGraphic"/></feMerge></filter></defs>
<g filter="url(#zsh)" fill="#85c2ec" stroke="#85c2ec" stroke-width="1.1" stroke-linejoin="round" font-family="Liberation Sans, sans-serif" font-weight="bold" font-style="italic">
<text transform="translate(367.55,463.05) scale(1.294,1)" font-size="28.87">z</text>
<text transform="translate(395.45,463.05) scale(1.230,1)" font-size="28.87">z</text>
<text transform="translate(422.53,463.65) scale(1.181,1)" font-size="30.56">r</text>
<text transform="translate(445.60,463.73) scale(1.225,1)" font-size="31.67">t</text>
<text transform="translate(465.52,463.75) scale(1.263,1)" font-size="30.28">0</text>
<text transform="translate(499.98,463.75) scale(0.940,1)" font-size="30.14">1</text>
<text transform="translate(524.30,463.75) scale(1.153,1)" font-size="41.33">.</text>
<text transform="translate(544.50,464.36) scale(0.959,1)" font-size="29.45">c</text>
<text transform="translate(568.39,464.35) scale(1.284,1)" font-size="29.44">n</text>
</g>
<text x="20.7" y="445.1" font-family="Liberation Sans, sans-serif" font-size="7.2" fill="#434651" text-anchor="middle" font-weight="normal" textLength="10.4" lengthAdjust="spacingAndGlyphs">Sep</text>
<text x="108.1" y="445.1" font-family="Liberation Sans, sans-serif" font-size="7.2" fill="#434651" text-anchor="middle" font-weight="normal" textLength="10.2" lengthAdjust="spacingAndGlyphs">Oct</text>
<text x="154.4" y="445.1" font-family="Liberation Sans, sans-serif" font-size="7.2" fill="#434651" text-anchor="middle" font-weight="normal" textLength="7.0" lengthAdjust="spacingAndGlyphs">17</text>
<text x="199.9" y="445.1" font-family="Liberation Sans, sans-serif" font-size="7.2" fill="#434651" text-anchor="middle" font-weight="normal" textLength="11.6" lengthAdjust="spacingAndGlyphs">Nov</text>
<text x="245.9" y="445.1" font-family="Liberation Sans, sans-serif" font-size="7.2" fill="#434651" text-anchor="middle" font-weight="normal" textLength="7.0" lengthAdjust="spacingAndGlyphs">16</text>
<text x="291.7" y="445.1" font-family="Liberation Sans, sans-serif" font-size="7.2" fill="#434651" text-anchor="middle" font-weight="normal" textLength="11.0" lengthAdjust="spacingAndGlyphs">Dec</text>
<text x="379.1" y="445.1" font-family="Liberation Sans, sans-serif" font-size="7.2" fill="#434651" text-anchor="middle" font-weight="bold" textLength="15.5" lengthAdjust="spacingAndGlyphs">2024</text>
<text x="424.9" y="445.1" font-family="Liberation Sans, sans-serif" font-size="7.2" fill="#434651" text-anchor="middle" font-weight="normal" textLength="7.0" lengthAdjust="spacingAndGlyphs">16</text>
<text x="475.2" y="445.1" font-family="Liberation Sans, sans-serif" font-size="7.2" fill="#434651" text-anchor="middle" font-weight="normal" textLength="11.4" lengthAdjust="spacingAndGlyphs">Feb</text>
<g fill="#131722"><path d="M5.5,457.3 H11 V462.4 H8.6 V459.3 H5.5 Z"/><circle cx="12.3" cy="458.3" r="1.0"/><path d="M13.8,457.2 H16.9 L14.3,462.3 H11.5 Z"/></g>
<text x="18.7" y="462.4" font-family="Liberation Sans, sans-serif" font-size="7.4" fill="#5d606b" text-anchor="start" font-weight="normal" textLength="39.4" lengthAdjust="spacingAndGlyphs">TradingView</text>
</svg>
</body></html>
